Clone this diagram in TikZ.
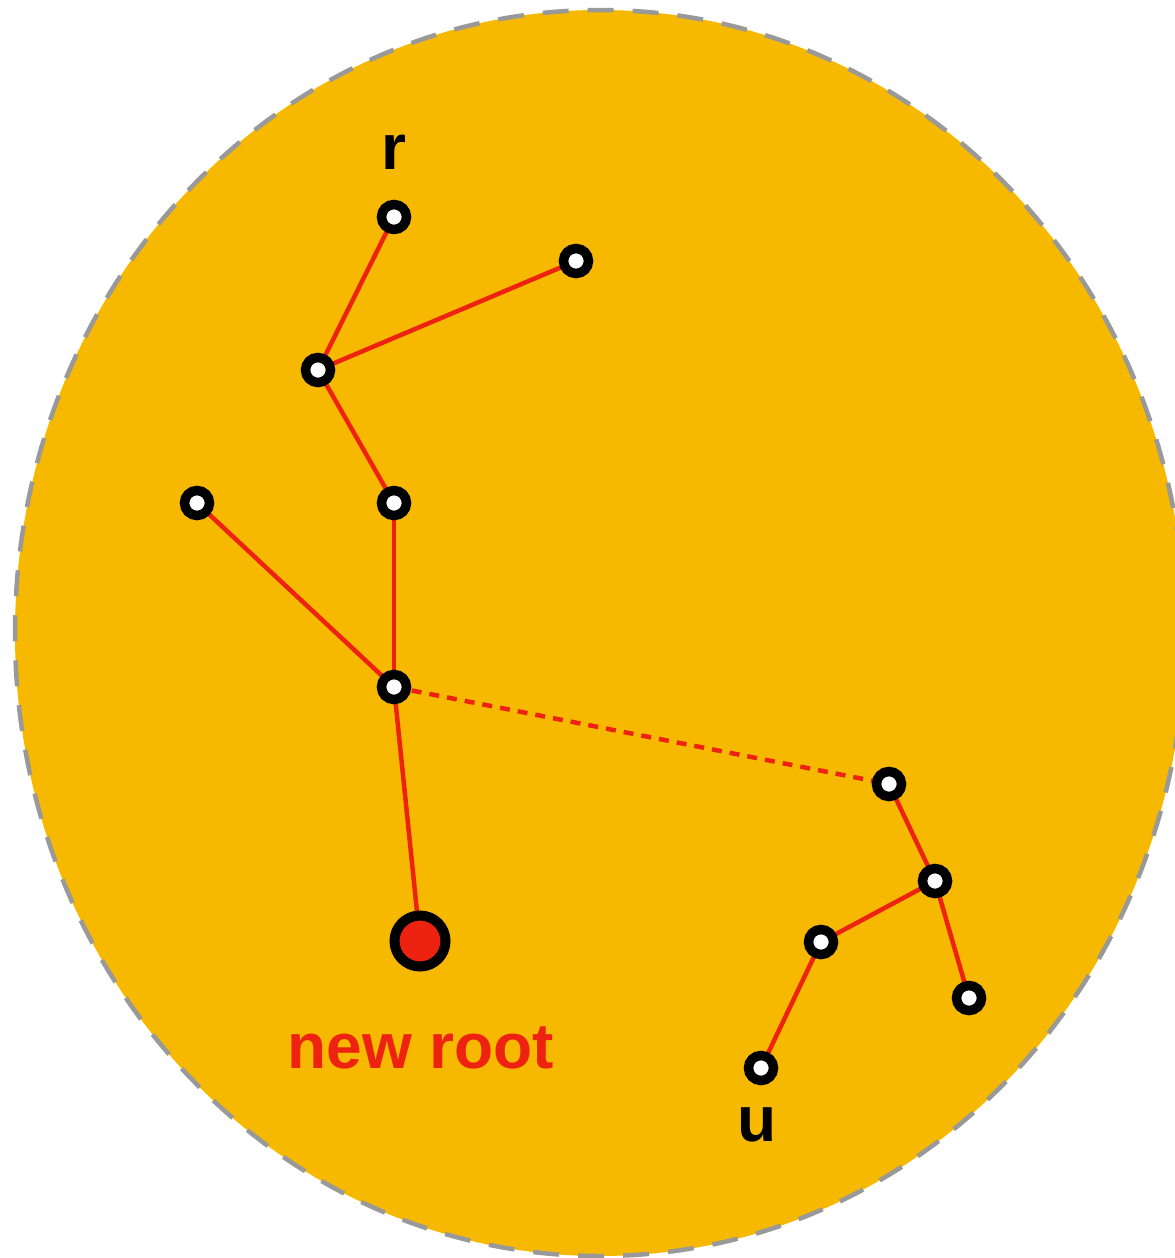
\documentclass[tikz,border=0pt]{standalone}
\usepackage{fontspec}
\setmainfont{Liberation Sans}
\definecolor{bg}{HTML}{F6B900}
\definecolor{edgered}{HTML}{EE2211}
\definecolor{rim}{HTML}{999999}
\begin{document}
\begin{tikzpicture}[x=1pt,y=-1pt,
  vtx/.style={circle,draw=black,line width=9.5pt,fill=white,minimum size=25pt,inner sep=0pt},
  rootvtx/.style={circle,draw=black,line width=10pt,fill=edgered,minimum size=51pt,inner sep=0pt},
  edge/.style={draw=edgered,line width=4.5pt},
  dedge/.style={draw=edgered,line width=4.5pt,dash pattern=on 10pt off 8pt},
  lbl/.style={font=\fontsize{64}{64}\selectfont\bfseries}]
\useasboundingbox (0,0) rectangle (1175,1258);
\begin{scope}
\clip (0,0) rectangle (1175,1258);
\draw[fill=bg,draw=rim,line width=4.5pt,dash pattern=on 26pt off 19pt] (600,633) ellipse [x radius=585, y radius=623];
\end{scope}
\coordinate (r) at (394,217);
\coordinate (a) at (576,261);
\coordinate (b) at (318,370);
\coordinate (c) at (394,503);
\coordinate (d) at (197,503);
\coordinate (e) at (394,687);
\coordinate (nr) at (420,941);
\coordinate (f) at (889,784);
\coordinate (g) at (935,881);
\coordinate (h) at (821,942);
\coordinate (i) at (969,998);
\coordinate (u) at (761,1068);
\draw[edge] (r) -- (b);
\draw[edge] (b) -- (a);
\draw[edge] (b) -- (c);
\draw[edge] (c) -- (e);
\draw[edge] (d) -- (e);
\draw[edge] (e) -- (nr);
\draw[dedge] (e) -- (f);
\draw[edge] (f) -- (g);
\draw[edge] (g) -- (h);
\draw[edge] (g) -- (i);
\draw[edge] (h) -- (u);
\foreach \n in {r,a,b,c,d,e,f,g,h,i,u} \node[vtx] (v\n) at (\n) {};
\node[rootvtx] (vnr) at (nr) {};
\node[lbl] (lr) at (394,152) {r};
\node[lbl] (lu) at (757,1125) {u};
\node[lbl,text=edgered] (lnr) at (421,1048) {new root};
\end{tikzpicture}
\end{document}
